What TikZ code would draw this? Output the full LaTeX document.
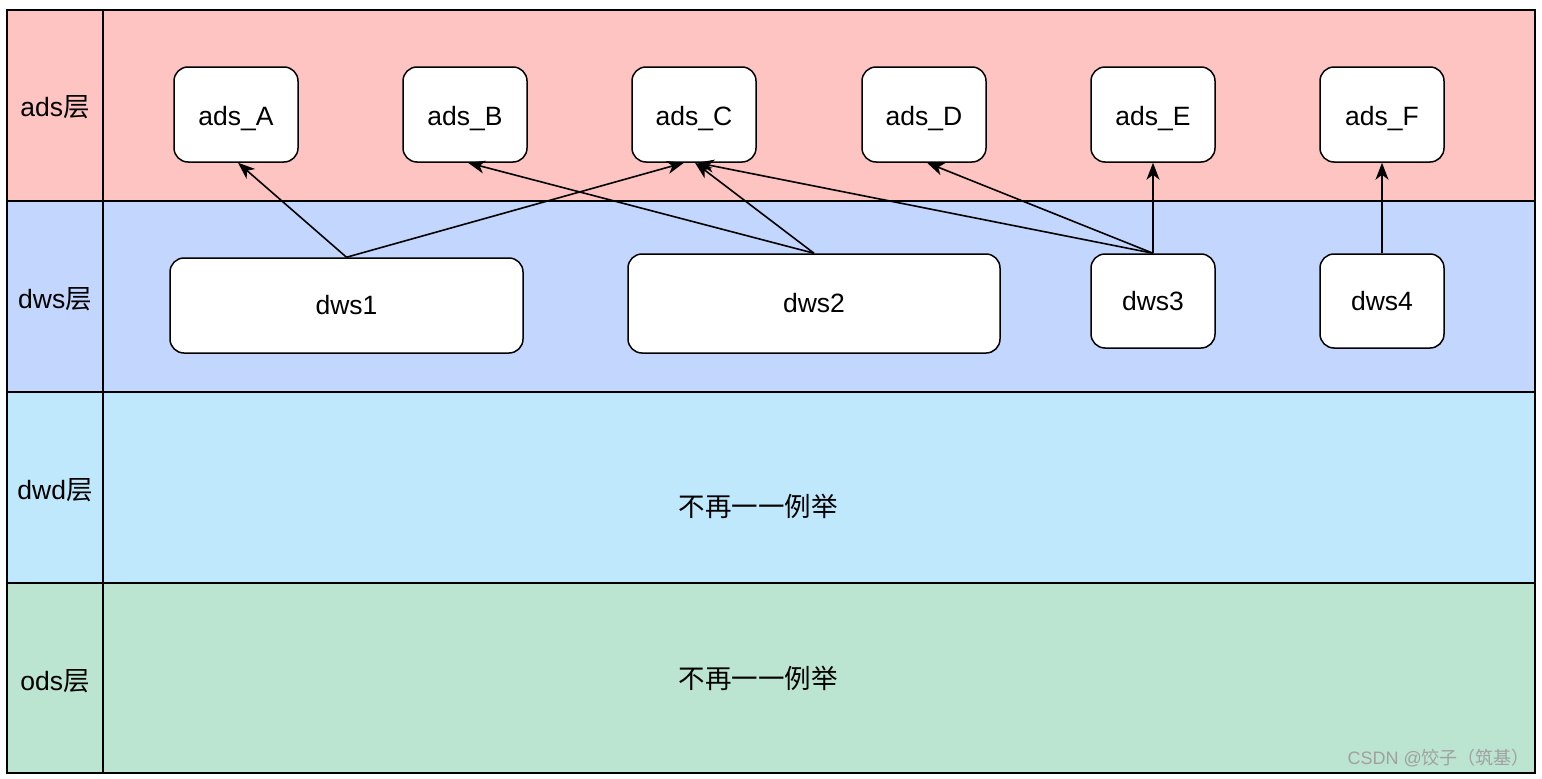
\documentclass[tikz,border=0pt]{standalone}
\usepackage{fontspec}
\setmainfont{Liberation Sans}
\newfontfamily\cjk{Noto Sans CJK SC}
\usetikzlibrary{arrows.meta}
\definecolor{adscol}{RGB}{253,196,194}
\definecolor{dwscol}{RGB}{195,214,253}
\definecolor{dwdcol}{RGB}{192,232,252}
\definecolor{odscol}{RGB}{187,229,209}
\definecolor{wmcol}{RGB}{160,160,160}
\tikzset{
  lane/.style={line width=1.8pt},
  lanelabel/.style={font=\fontsize{26.5}{30}\selectfont, anchor=center},
  box/.style={draw=black, fill=white, rounded corners=14pt, line width=1.5pt,
    minimum width=124pt, minimum height=95pt, inner sep=0pt,
    font=\fontsize{26.5}{30}\selectfont},
  adsbox/.style={box, text height=25pt, text depth=4pt},
  arr/.style={-{Stealth[length=17pt,width=13pt,inset=5pt]}, line width=1.6pt},
  note/.style={font=\fontsize{26.5}{30}\selectfont\cjk},
}
\begin{document}
\begin{tikzpicture}[x=1pt,y=-1pt]
\useasboundingbox (0,0) rectangle (1542,779);
\fill[white] (0,0) rectangle (1542,779);
% lanes
\fill[adscol] (7,10) rectangle (1535,201);
\fill[dwscol] (7,201) rectangle (1535,392);
\fill[dwdcol] (7,392) rectangle (1535,583);
\fill[odscol] (7,583) rectangle (1535,773);
\draw[lane] (7,10) rectangle (1535,773);
\draw[lane] (103,10) -- (103,773);
\draw[lane] (7,201) -- (1535,201);
\draw[lane] (7,392) -- (1535,392);
\draw[lane] (7,583) -- (1535,583);
% lane labels
\node[lanelabel] (lads) at (55,107) {ads{\cjk 层}};
\node[lanelabel] (ldws) at (55,299) {dws{\cjk 层}};
\node[lanelabel] (ldwd) at (55,490) {dwd{\cjk 层}};
\node[lanelabel] (lods) at (55,681) {ods{\cjk 层}};
% ads nodes
\node[adsbox] (adsA) at (236,114.5) {ads\_A};
\node[adsbox] (adsB) at (465,114.5) {ads\_B};
\node[adsbox] (adsC) at (694,114.5) {ads\_C};
\node[adsbox] (adsD) at (924,114.5) {ads\_D};
\node[adsbox] (adsE) at (1153,114.5) {ads\_E};
\node[adsbox] (adsF) at (1382,114.5) {ads\_F};
% dws nodes
\node[box, minimum width=353pt] (dws1) at (346.5,305.5) {dws1};
\node[box, minimum width=372pt, minimum height=99pt] (dws2) at (814,303.5) {dws2};
\node[box, minimum height=94pt] (dws3) at (1153,301) {dws3};
\node[box, minimum height=94pt] (dws4) at (1382,301) {dws4};
% arrows
\draw[arr] (dws1.north) -- ([xshift=2pt]adsA.south);
\draw[arr] (dws1.north) -- ([xshift=-10pt]adsC.south);
\draw[arr] (dws2.north) -- ([xshift=3pt]adsB.south);
\draw[arr] (dws2.north) -- ([xshift=1pt]adsC.south);
\draw[arr] (dws3.north) -- ([xshift=3pt]adsC.south);
\draw[arr] (dws3.north) -- ([xshift=3pt]adsD.south);
\draw[arr] (dws3.north) -- (adsE.south);
\draw[arr] (dws4.north) -- (adsF.south);
% notes
\node[note] (ndwd) at (758,506) {不再一一例举};
\node[note] (nods) at (758,678) {不再一一例举};
% watermark
\node[anchor=east, text=wmcol, font=\fontsize{18}{21}\selectfont, inner sep=0pt] (wm) at (1530,758) {CSDN @{\cjk 饺子（筑基）}};
\end{tikzpicture}
\end{document}
